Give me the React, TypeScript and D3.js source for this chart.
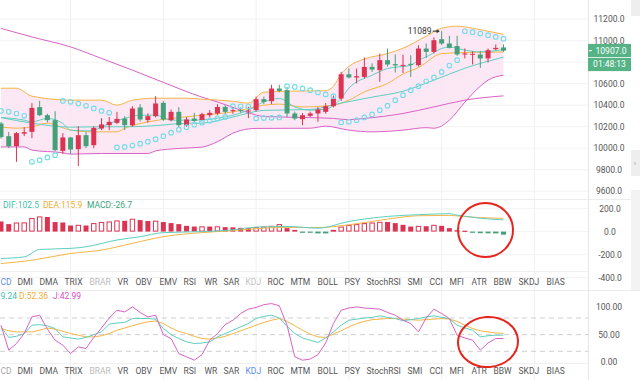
import React from 'react';
import * as d3 from 'd3';

// ---------- DATA ----------
const opens = [10230,10112,10019,10135,10152,10382,10307,10261,9975,10100,9991,10121,10028,10183,10214,10236,10276,10214,10379,10261,10298,10422,10261,10338,10214,10276,10261,10307,10323,10384,10344,10354,10345,10354,10456,10437,10555,10540,10323,10270,10301,10323,10338,10391,10462,10688,10658,10663,10756,10726,10819,10782,10770,10785,10772,10927,10896,11014,10974,10950,10872,10876,10872,10835,10921,10937];
const highs = [10245,10150,10150,10195,10419,10440,10320,10344,10140,10105,10205,10150,10205,10279,10289,10338,10298,10390,10410,10325,10484,10440,10360,10382,10290,10329,10330,10354,10410,10400,10380,10380,10385,10480,10480,10590,10590,10570,10340,10326,10340,10382,10420,10490,10710,10741,10741,10844,10790,10881,10927,10872,10870,10865,10958,10974,11030,11089,11045,11045,10928,10902,10902,10928,10965,10965];
const lows = [10090,10000,9873,10112,10093,10298,10240,9972,9945,9945,9833,10000,10000,10168,10168,10224,10168,10200,10250,10236,10286,10255,10250,10198,10200,10245,10250,10286,10310,10320,10320,10330,10280,10340,10410,10410,10520,10289,10260,10214,10290,10245,10320,10380,10440,10648,10602,10648,10710,10617,10760,10704,10700,10662,10760,10840,10880,10960,10928,10860,10835,10779,10747,10797,10912,10896];
const closes = [10103,10019,10140,10149,10375,10307,10261,9982,10100,9988,10121,10019,10189,10221,10245,10273,10214,10369,10267,10298,10416,10267,10338,10214,10267,10254,10316,10329,10384,10338,10354,10344,10350,10456,10431,10555,10533,10323,10276,10307,10323,10360,10391,10462,10688,10658,10670,10756,10732,10819,10779,10770,10775,10775,10927,10896,11005,10974,10934,10872,10881,10878,10835,10912,10933,10907];
const sarValues = [10347,10338,10323,10301,9873,9889,9914,9935,10440,10431,10416,10394,10370,10347,10329,10007,10012,10024,10042,10061,10084,10112,10144,10172,10196,10219,10237,10256,10277,10291,10391,10390,10388,10277,10280,10283,10286,10577,10570,10556,10540,10518,10500,10484,10239,10245,10261,10286,10314,10354,10396,10447,10493,10540,10577,10623,10658,10710,10769,10819,11088,11079,11067,11051,11035,11019];

// [candle index, price]
const bollUpper: [number, number][] = [[0,10558],[2,10558],[4,10484],[9,10447],[13,10447],[15,10400],[17,10447],[20,10465],[24,10465],[26,10456],[30,10437],[32,10419],[34,10521],[37,10530],[42,10535],[43,10577],[44,10690],[45,10760],[47,10830],[50,10880],[52,10930],[55,11042],[57,11116],[59,11135],[61,11116],[63,11088],[65,11060]];
const bollLower: [number, number][] = [[0,10012],[3,10012],[4,9982],[8,9957],[9,9945],[13,9951],[19,9951],[20,9975],[23,9998],[26,10010],[27,10030],[28,10060],[29,10100],[30,10140],[31,10165],[33,10184],[40,10186],[42,10205],[45,10168],[48,10152],[52,10168],[55,10191],[56,10186],[58,10261],[60,10428],[62,10577],[63,10633],[65,10679]];
const bollMid: [number, number][] = [[0,10285],[4,10233],[9,10196],[13,10199],[17,10200],[20,10210],[24,10232],[26,10233],[30,10290],[34,10352],[40,10360],[44,10420],[48,10475],[52,10530],[56,10633],[60,10744],[65,10847]];
const maFast: [number, number][] = [[0,10286],[3,10261],[4,10245],[6,10277],[8,10230],[9,10168],[11,10161],[12,10168],[14,10230],[16,10277],[18,10307],[20,10307],[22,10261],[25,10261],[29,10291],[32,10354],[34,10431],[36,10462],[38,10384],[40,10354],[42,10363],[44,10465],[45,10558],[48,10679],[50,10741],[53,10772],[54,10819],[55,10849],[57,10928],[58,10942],[60,10912],[62,10896],[65,10918]];
const maMid: [number, number][] = [[0,10198],[2,10186],[4,10198],[6,10233],[9,10168],[12,10152],[15,10152],[16,10186],[19,10245],[22,10277],[26,10307],[30,10338],[34,10400],[36,10410],[39,10384],[43,10400],[45,10447],[47,10524],[50,10602],[52,10690],[54,10750],[57,10880],[60,10890],[65,10895]];
const maLong: [number, number][] = [[0,11114],[4,11035],[9,10942],[13,10835],[17,10726],[21,10612],[26,10475],[28,10430],[30,10380],[32,10330],[34,10295],[39,10286],[43,10277],[45,10265],[47,10277],[52,10323],[56,10384],[60,10447],[65,10487]];

const macdHist = [88,65,79,80,118,132,127,83,79,53,59,53,74,83,88,97,94,112,100,92,95,83,74,65,50,44,46,44,46,39,37,33,30,39,44,50,65,30,15,-6,-8,-7,-5,15,44,59,65,74,79,85,84,74,59,44,50,47,59,50,30,12,8,-5,-14,-15,-12,-26.7];
const difLine: [number, number][] = [[0,-234],[3,-220],[5,-155],[9,-146],[11,-132],[15,-73],[18,-44],[21,-9],[26,0],[30,15],[33,39],[37,45],[41,30],[45,88],[50,132],[54,147],[58,156],[59,142],[60,134],[62,116],[65,102.5]];
const deaLine: [number, number][] = [[0,-278],[4,-249],[9,-190],[13,-161],[17,-102],[21,-44],[26,-9],[30,9],[34,30],[37,37],[41,35],[45,59],[50,109],[54,138],[58,141],[59,136],[60,130],[62,122],[65,115.9]];

const kValues = [64,45,47,52,67,68,66,61,46,44,42,45,50,55,69,71,72,79,79,79,78,61,50,43,37,34,35,37,46,52,58,64,70,79,83,85,80,65,52,44,40,36,44,55,67,76,78,80,81,84,81,79,75,77,79,82,84,81,79,67,62,58,46,48,49,49.24];
const dValues = [61,57,55,55,55,58,62,60,56,52,49,46,46,48,52,58,62,66,70,73,74.6,70,62,56,52,47,43,42,44,47,52,57,62,67,72,76,79,74,66,58,51,46,45,51,57,64,70,74,77,78,79,79,78,77,76,77,78,79,78,74,67,61,57,55,53,52.36];
const jValues = [67,22,34,52,82,85,60,40,31,16,28,25,45,62,80,94,91,100,90,82,85,50,43,16,10,4,14,40,52,68,76,88,96,99,104,106,102,67,10,4,6,14,35,70,94,98,100,98,97,96,90,85,76,70,55,80,96,88,79,49,44,40,22,35,43,42.99];

const priceTicks = [9600,9800,10000,10200,10400,10600,10800,11000,11200];
const macdTicks = [200,0,-200,-400];
const kdjTicks = [100,50,0];
const kdjLevels = [80,50,20];
const timeGridIdx = [9,21,33,45,57,69];
// first tab and K legend are cut by the left edge in the reference: only their visible parts are shown
const tabs = ['CD','DMI','DMA','TRIX','BRAR','VR','OBV','EMV','RSI','WR','SAR','KDJ','ROC','MTM','BOLL','PSY','StochRSI','SMI','CCI','MFI','ATR','BBW','SKDJ','BIAS'];
const lastPrice = 10907;
const countdown = '01:48:13';
const highIdx = 57;
const macdLegend = ['DIF:102.5', 'DEA:115.9', 'MACD:-26.7'];
const kdjLegend = ['9.24', 'D:52.36', 'J:42.99'];

// ---------- LAYOUT ----------
const tabStarts = [0, 17, 39, 64, 89, 117, 135, 159, 183, 204, 223, 245, 267, 290, 317, 344, 366, 407, 429, 449, 471, 493, 518, 546];

const RED = '#db3452';
const GREEN = '#45a07a';
const ORANGE = '#f5b546';
const TEAL = '#5ccfc0';
const MAGENTA = '#d862c6';
const SAR_C = '#72dde8';
const AXIS_TXT = '#555';
const FONT = "Roboto, 'Noto Sans', sans-serif";

export default function App() {
  const n = closes.length;
  const x = d3.scaleLinear().domain([0, n - 1]).range([1, 503.5]);
  const yP = d3.scaleLinear().domain([9600, 11200]).range([191.2, 19.2]);
  const yM = d3.scaleLinear().domain([-400, 200]).range([277.6, 208.6]);
  const yK = d3.scaleLinear().domain([0, 100]).range([362.4, 306.9]);
  const bw = 5;

  const pLine = d3.line<[number, number]>().x(d => x(d[0])).y(d => yP(d[1])).curve(d3.curveMonotoneX);
  const mLine = d3.line<[number, number]>().x(d => x(d[0])).y(d => yM(d[1])).curve(d3.curveMonotoneX);
  const kLine = d3.line<number>().x((_, i) => x(i)).y(d => yK(d));

  const idxs = Array.from(new Set([...bollUpper.map(d => d[0]), ...bollLower.map(d => d[0])])).sort((a, b) => a - b);
  const interp = (arr: [number, number][], i: number) => {
    for (let k = 0; k < arr.length - 1; k++) {
      if (i >= arr[k][0] && i <= arr[k + 1][0]) {
        const t = (i - arr[k][0]) / (arr[k + 1][0] - arr[k][0]);
        return arr[k][1] + t * (arr[k + 1][1] - arr[k][1]);
      }
    }
    return arr[arr.length - 1][1];
  };
  const bandArea = d3.area<number>().x(i => x(i)).y0(i => yP(interp(bollLower, i))).y1(i => yP(interp(bollUpper, i))).curve(d3.curveMonotoneX);

  const hx = x(highIdx);
  const hy = yP(highs[highIdx]);
  const lastY = yP(lastPrice);
  const visiblePriceTicks = priceTicks.filter(p => {
    const yy = yP(p);
    return yy < lastY - 8 || yy > lastY + 22;
  });

  return (
    <svg width={640} height={380} style={{ position: 'absolute', left: 0, top: 0, background: '#fff', fontFamily: FONT }}>
      <defs>
        <clipPath id="mainClip"><rect x={0} y={0} width={588} height={198} /></clipPath>
        <clipPath id="macdClip"><rect x={0} y={200} width={588} height={72} /></clipPath>
        <clipPath id="kdjClip"><rect x={0} y={291} width={588} height={72} /></clipPath>
      </defs>

      {timeGridIdx.map(i => (
        <line key={'vg' + i} x1={x(i)} x2={x(i)} y1={0} y2={380} stroke="#f0f0f0" strokeWidth={1} />
      ))}
      {priceTicks.map(p => (
        <line key={'hg' + p} x1={0} x2={588} y1={yP(p)} y2={yP(p)} stroke="#f2f2f2" strokeWidth={1} />
      ))}

      <g clipPath="url(#mainClip)">
        <path d={bandArea(idxs) || ''} fill="#fce4f2" opacity={0.85} />
        <path d={pLine(maLong) || ''} fill="none" stroke={MAGENTA} strokeWidth={1} />
        <path d={pLine(bollLower) || ''} fill="none" stroke={MAGENTA} strokeWidth={1} />
        <path d={pLine(bollUpper) || ''} fill="none" stroke={ORANGE} strokeWidth={1} />
        <path d={pLine(maMid) || ''} fill="none" stroke={ORANGE} strokeWidth={1} />
        <path d={pLine(bollMid) || ''} fill="none" stroke={TEAL} strokeWidth={1} />
        <path d={pLine(maFast) || ''} fill="none" stroke={TEAL} strokeWidth={1} />
        {closes.map((c, i) => {
          const o = opens[i];
          const up = c >= o;
          const col = up ? RED : GREEN;
          const top = yP(Math.max(o, c));
          const bot = yP(Math.min(o, c));
          return (
            <g key={'c' + i}>
              <line x1={x(i)} x2={x(i)} y1={yP(highs[i])} y2={yP(lows[i])} stroke={col} strokeWidth={1} />
              <rect x={x(i) - bw / 2} y={top} width={bw} height={Math.max(1, bot - top)} fill={col} />
            </g>
          );
        })}
        {sarValues.map((s, i) => (
          <circle key={'s' + i} cx={x(i)} cy={yP(s)} r={2.3} fill="none" stroke={SAR_C} strokeWidth={1.1} />
        ))}
        <text x={hx - 10} y={hy} fontSize={8.5} fill="#333" textAnchor="end" dominantBaseline="central">{highs[highIdx]}</text>
        <line x1={hx - 9} x2={hx - 2.5} y1={hy} y2={hy} stroke="#333" strokeWidth={1} />
        <path d={`M${hx - 2},${hy} l-3,-2 l0,4 z`} fill="#333" />
      </g>

      <line x1={0} x2={640} y1={199.5} y2={199.5} stroke="#ececec" />
      <line x1={0} x2={588} y1={271.5} y2={271.5} stroke="#f0f0f0" />
      <line x1={0} x2={640} y1={290.5} y2={290.5} stroke="#ececec" />
      <line x1={0} x2={588} y1={363.5} y2={363.5} stroke="#f0f0f0" />

      {/* MACD panel */}
      {macdTicks.map(t => (
        <line key={'mg' + t} x1={0} x2={588} y1={yM(t)} y2={yM(t)} stroke="#f3f3f3" />
      ))}
      <g clipPath="url(#macdClip)">
        {macdHist.map((v, i) => {
          const prev = i > 0 ? macdHist[i - 1] : Infinity;
          const hollow = v > prev;
          const col = v >= 0 ? RED : GREEN;
          const y0 = yM(0);
          const y1 = yM(v);
          const top = Math.min(y0, y1);
          const h = Math.max(1.2, Math.abs(y1 - y0));
          return hollow ? (
            <rect key={'h' + i} x={x(i) - 2.2} y={top + 0.5} width={4.4} height={Math.max(0.8, h - 1)} fill="#fff" stroke={col} strokeWidth={1} />
          ) : (
            <rect key={'h' + i} x={x(i) - 2.5} y={top} width={5} height={h} fill={col} />
          );
        })}
        <path d={mLine(deaLine) || ''} fill="none" stroke={ORANGE} strokeWidth={1} />
        <path d={mLine(difLine) || ''} fill="none" stroke={TEAL} strokeWidth={1} />
      </g>
      <text x={3} y={205} fontSize={8.5} fill="#3fbfae" dominantBaseline="central">{macdLegend[0]}</text>
      <text x={43} y={205} fontSize={8.5} fill="#f0ad2e" dominantBaseline="central">{macdLegend[1]}</text>
      <text x={87} y={205} fontSize={8.5} fill="#3aa37a" dominantBaseline="central">{macdLegend[2]}</text>

      {/* KDJ panel */}
      {kdjLevels.map(t => (
        <line key={'kl' + t} x1={0} x2={588} y1={yK(t)} y2={yK(t)} stroke="#cfcfcf" strokeDasharray="5,4" />
      ))}
      <g clipPath="url(#kdjClip)">
        <path d={kLine(dValues) || ''} fill="none" stroke={ORANGE} strokeWidth={1} />
        <path d={kLine(kValues) || ''} fill="none" stroke={TEAL} strokeWidth={1} />
        <path d={kLine(jValues) || ''} fill="none" stroke={MAGENTA} strokeWidth={1} />
      </g>
      <text x={0.5} y={296} fontSize={8.5} fill="#3fbfae" dominantBaseline="central">{kdjLegend[0]}</text>
      <text x={19} y={296} fontSize={8.5} fill="#f0ad2e" dominantBaseline="central">{kdjLegend[1]}</text>
      <text x={53} y={296} fontSize={8.5} fill="#d84fc8" dominantBaseline="central">{kdjLegend[2]}</text>

      {/* tab rows */}
      {[281.5, 371].map((ty, row) => (
        <g key={'row' + row}>
          {tabs.map((t, i) => {
            let col = '#555';
            if (t === 'BRAR') col = '#bbb';
            if (row === 0 && t === 'CD') col = '#5b8def';
            if (row === 0 && t === 'KDJ') col = '#c4c4c4';
            if (row === 1 && t === 'CD') col = '#aaa';
            if (row === 1 && t === 'KDJ') col = '#5b8def';
            return (
              <text key={t} x={tabStarts[i] + 0.5} y={ty} fontSize={8.5} fill={col} dominantBaseline="central">{t}</text>
            );
          })}
        </g>
      ))}

      {/* right axis */}
      <line x1={588.5} x2={588.5} y1={0} y2={380} stroke="#e6e6e6" />
      {visiblePriceTicks.map(p => (
        <text key={'pt' + p} x={609} y={yP(p)} fontSize={8.5} fill={AXIS_TXT} textAnchor="middle" dominantBaseline="central">{p.toFixed(1)}</text>
      ))}
      {macdTicks.map(t => (
        <text key={'mt' + t} x={610} y={yM(t)} fontSize={8.5} fill={AXIS_TXT} textAnchor="middle" dominantBaseline="central">{t.toFixed(1)}</text>
      ))}
      {kdjTicks.map(t => (
        <text key={'kt' + t} x={609} y={yK(t)} fontSize={8.5} fill={AXIS_TXT} textAnchor="middle" dominantBaseline="central">{t.toFixed(2)}</text>
      ))}

      {/* last price labels */}
      <rect x={588} y={lastY - 6.8} width={43} height={13.2} fill="#55b386" />
      <line x1={589} x2={592} y1={lastY} y2={lastY} stroke="#fff" />
      <text x={611} y={lastY} fontSize={8.5} fill="#fff" textAnchor="middle" dominantBaseline="central">{lastPrice.toFixed(1)}</text>
      <rect x={588} y={lastY + 7.2} width={43} height={13.2} fill="#55b386" />
      <text x={609.5} y={lastY + 13.8} fontSize={8.5} fill="#fff" textAnchor="middle" dominantBaseline="central">{countdown}</text>

      {/* right scroll strip */}
      <rect x={631} y={0} width={9} height={16} fill="#eeeeee" />
      <rect x={631} y={150} width={9} height={26} fill="#eeeeee" />
      <text x={635} y={163} fontSize={8} fill="#999" textAnchor="middle" dominantBaseline="central">›</text>
      <rect x={631} y={190} width={9} height={100} fill="#f3f3f3" />

      {/* red annotation circles */}
      <ellipse cx={485.5} cy={230} rx={27.5} ry={27} fill="none" stroke="#e5261f" strokeWidth={2} />
      <ellipse cx={488} cy={342} rx={30} ry={25} fill="none" stroke="#e5261f" strokeWidth={2} transform="rotate(-4 488 342)" />
    </svg>
  );
}
